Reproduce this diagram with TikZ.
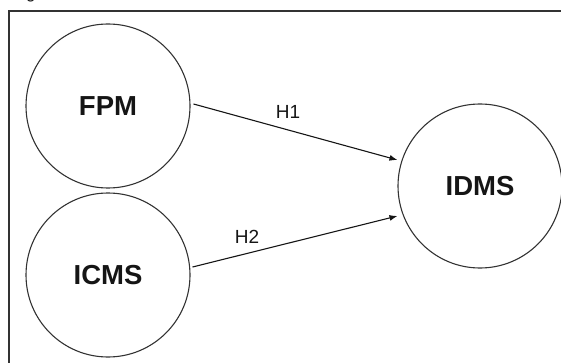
\documentclass[tikz,border=0pt]{standalone}
\usepackage{fontspec}
\setmainfont{Liberation Sans}
\usetikzlibrary{arrows.meta}
\definecolor{linegray}{HTML}{333333}
\definecolor{textdark}{HTML}{151515}
\begin{document}
\begin{tikzpicture}[x=1pt,y=-1pt,
  bubble/.style={circle,draw=linegray,line width=1.1pt,minimum size=164pt,inner sep=0pt,
    font=\fontsize{27.5}{31}\selectfont\bfseries,text=textdark},
  arr/.style={draw=textdark,line width=1.1pt,-{Latex[length=8pt,width=6pt]}},
  hlabel/.style={font=\fontsize{19}{22}\selectfont,text=textdark,inner sep=0pt}]
\useasboundingbox (0,0) rectangle (561,363);
\clip (0,0) rectangle (561,363);
% cut-off caption fragment at the top (cut off in the reference too)
\begin{scope}
\clip (0,0) rectangle (60,4);
\node[anchor=base west,font=\fontsize{17}{20}\selectfont,text=textdark,inner sep=0pt] (cap) at (26,-1) {g};
\end{scope}
% frame
\draw[linegray,line width=2pt] (9,370) -- (9,11) -- (570,11);
% nodes
\node[bubble] (FPM) at (108,106) {FPM};
\node[bubble] (ICMS) at (108,275) {ICMS};
\node[bubble] (IDMS) at (480,186) {IDMS};
% connectors
\draw[arr] ([shift={(3,-2)}]FPM.east) -- ([shift={(0,-26)}]IDMS.west);
\draw[arr] ([shift={(2,-8)}]ICMS.east) -- ([shift={(0,30)}]IDMS.west);
% labels
\node[hlabel] (h1) at (288,112) {H1};
\node[hlabel] (h2) at (247,237) {H2};
\end{tikzpicture}
\end{document}
